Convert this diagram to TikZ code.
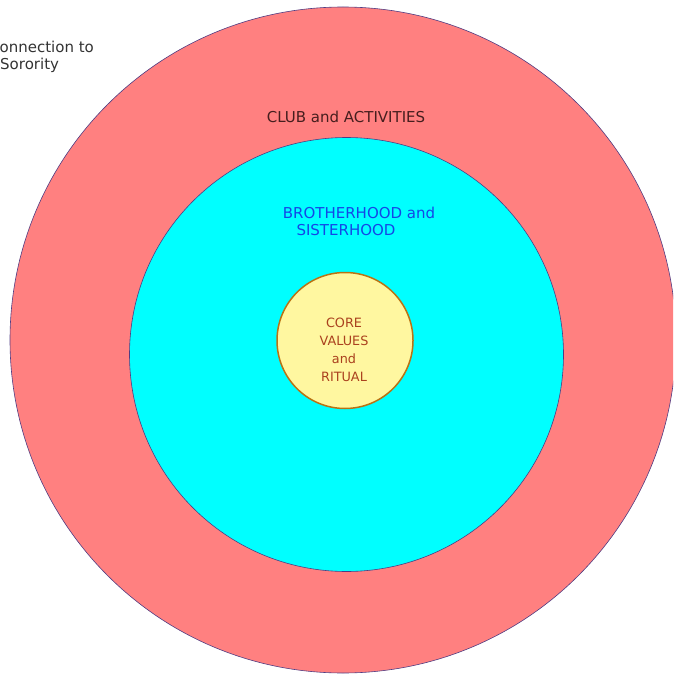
\documentclass[tikz,border=0pt]{standalone}
\usepackage{fontspec}
\setmainfont{DejaVu Sans}
\usetikzlibrary{positioning}

\begin{document}
\begin{tikzpicture}[x=1pt,y=-1pt]
\useasboundingbox (0,0) rectangle (673,676);
\clip (0,0) rectangle (673,676);
\definecolor{ringEdgeColor}{RGB}{80,60,130}
\definecolor{clubColor}{RGB}{255,128,128}
\definecolor{brotherColor}{RGB}{0,255,255}
\definecolor{coreFillColor}{RGB}{255,247,160}
\definecolor{coreEdgeColor}{RGB}{185,115,20}
\definecolor{coreTextColor}{RGB}{170,65,30}
\definecolor{clubTextColor}{RGB}{70,30,30}
\definecolor{brotherTextColor}{RGB}{20,70,230}
\draw[color=ringEdgeColor, fill=clubColor, line width=0.6pt] (343,340) circle (333pt);
\draw[color=ringEdgeColor, fill=brotherColor, line width=0.6pt] (346.5,354.5) circle (217pt);
\draw[color=coreEdgeColor, fill=coreFillColor, line width=1.5pt] (345,340.5) circle (68pt);
\node[color=clubTextColor, font=\fontsize{15}{17}\selectfont] (club) at (346,117) {CLUB and ACTIVITIES};
\node[color=brotherTextColor, font=\fontsize{15}{17}\selectfont] (brother) at (359,213) {BROTHERHOOD and};
\node[color=brotherTextColor, font=\fontsize{15}{17}\selectfont] (sister) at (346,230) {SISTERHOOD};
\node[color=coreTextColor, align=center, font=\fontsize{12.8}{18}\selectfont] (core) at (344,350) {CORE\\VALUES\\and\\RITUAL};
\node[anchor=west, align=left, inner sep=0pt, color=black!80, font=\fontsize{15}{17}\selectfont] (connect) at (-11,57) {Connection to\\\hspace{11pt}Sorority};
\end{tikzpicture}
\end{document}
